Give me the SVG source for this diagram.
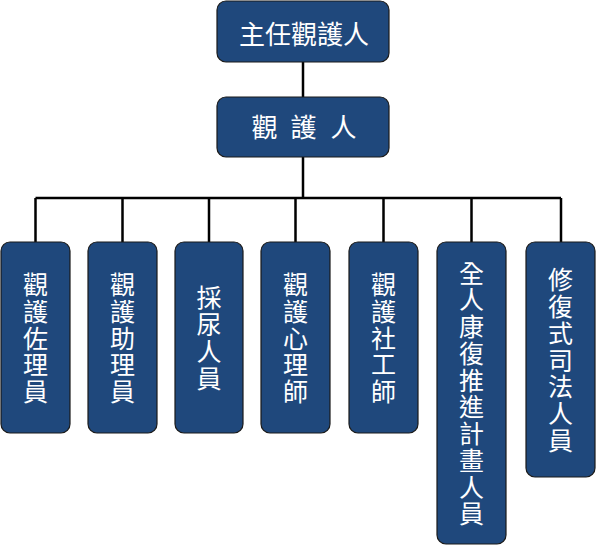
<svg xmlns="http://www.w3.org/2000/svg" width="597" height="546" viewBox="0 0 597 546">
<style>
.box{fill:#1F487C;stroke:#1a1a1a;stroke-width:1.2}
.t{fill:#ffffff;font-family:"Noto Sans CJK TC","Noto Sans CJK SC",sans-serif;font-size:25px;text-anchor:middle}
.big{font-size:26px}
.c{stroke:#000;stroke-width:2.5;fill:none}
</style>
<rect width="597" height="546" fill="#ffffff"/>
<g id="connectors">
<path class="c" d="M303 62V97M303 157V198M35.5 198H561M35.5 198V242M122.5 198V242M209 198V242M295.5 198V242M383.5 198V242M471.5 198V242M561 198V242"/>
</g>
<g id="n-chief">
<rect class="box" x="217" y="1" width="172" height="61" rx="9"/>
<text class="t big" x="304" y="44">主任觀護人</text>
</g>
<g id="n-officer">
<rect class="box" x="217" y="97" width="172" height="60" rx="9"/>
<text class="t big" y="136.5"><tspan x="264.5">觀</tspan><tspan x="303.5">護</tspan><tspan x="343.5">人</tspan></text>
</g>
<g id="n1">
<rect class="box" x="1" y="242" width="69" height="191" rx="9"/>
<text class="t" y="294"><tspan x="35.5">觀</tspan><tspan x="35.5" dy="26.75">護</tspan><tspan x="35.5" dy="26.75">佐</tspan><tspan x="35.5" dy="26.75">理</tspan><tspan x="35.5" dy="26.75">員</tspan></text>
</g>
<g id="n2">
<rect class="box" x="88" y="242" width="69" height="191" rx="9"/>
<text class="t" y="294"><tspan x="122.5">觀</tspan><tspan x="122.5" dy="26.75">護</tspan><tspan x="122.5" dy="26.75">助</tspan><tspan x="122.5" dy="26.75">理</tspan><tspan x="122.5" dy="26.75">員</tspan></text>
</g>
<g id="n3">
<rect class="box" x="175" y="242" width="68" height="191" rx="9"/>
<text class="t" y="307.4"><tspan x="209">採</tspan><tspan x="209" dy="26.75">尿</tspan><tspan x="209" dy="26.75">人</tspan><tspan x="209" dy="26.75">員</tspan></text>
</g>
<g id="n4">
<rect class="box" x="261" y="242" width="69" height="191" rx="9"/>
<text class="t" y="294"><tspan x="295.5">觀</tspan><tspan x="295.5" dy="26.75">護</tspan><tspan x="295.5" dy="26.75">心</tspan><tspan x="295.5" dy="26.75">理</tspan><tspan x="295.5" dy="26.75">師</tspan></text>
</g>
<g id="n5">
<rect class="box" x="349" y="242" width="69" height="191" rx="9"/>
<text class="t" y="294"><tspan x="383.5">觀</tspan><tspan x="383.5" dy="26.75">護</tspan><tspan x="383.5" dy="26.75">社</tspan><tspan x="383.5" dy="26.75">工</tspan><tspan x="383.5" dy="26.75">師</tspan></text>
</g>
<g id="n6">
<rect class="box" x="437" y="242" width="69" height="302" rx="9"/>
<text class="t" y="282.6"><tspan x="471.5">全</tspan><tspan x="471.5" dy="26.75">人</tspan><tspan x="471.5" dy="26.75">康</tspan><tspan x="471.5" dy="26.75">復</tspan><tspan x="471.5" dy="26.75">推</tspan><tspan x="471.5" dy="26.75">進</tspan><tspan x="471.5" dy="26.75">計</tspan><tspan x="471.5" dy="26.75">畫</tspan><tspan x="471.5" dy="26.75">人</tspan><tspan x="471.5" dy="26.75">員</tspan></text>
</g>
<g id="n7">
<rect class="box" x="526" y="242" width="69" height="235" rx="9"/>
<text class="t" y="289.25"><tspan x="560.5">修</tspan><tspan x="560.5" dy="26.75">復</tspan><tspan x="560.5" dy="26.75">式</tspan><tspan x="560.5" dy="26.75">司</tspan><tspan x="560.5" dy="26.75">法</tspan><tspan x="560.5" dy="26.75">人</tspan><tspan x="560.5" dy="26.75">員</tspan></text>
</g>
</svg>
